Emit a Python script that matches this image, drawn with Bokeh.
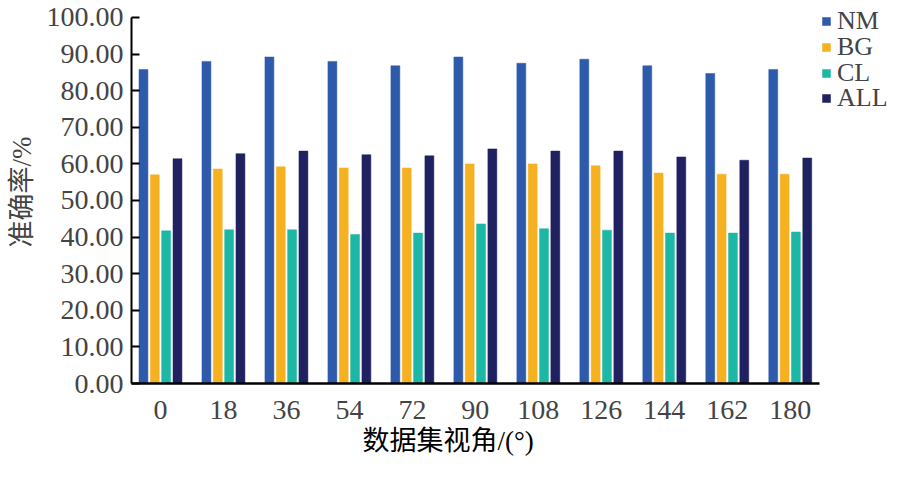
from bokeh.plotting import figure
from bokeh.models import ColumnDataSource, FixedTicker, Legend, LegendItem, Range1d, Title
from bokeh.embed import file_html
from bokeh.resources import INLINE

categories = ["0", "18", "36", "54", "72", "90", "108", "126", "144", "162", "180"]
series_names = ["NM", "BG", "CL", "ALL"]
nm = [85.8, 88.0, 89.2, 88.0, 86.8, 89.2, 87.5, 88.6, 86.8, 84.7, 85.8]
bg = [57.0, 58.6, 59.2, 58.9, 58.9, 60.0, 60.0, 59.5, 57.5, 57.2, 57.2]
cl = [41.7, 42.0, 42.0, 40.7, 41.1, 43.6, 42.3, 41.9, 41.1, 41.1, 41.4]
all_ = [61.4, 62.8, 63.5, 62.5, 62.2, 64.1, 63.5, 63.5, 61.9, 61.0, 61.6]
y_ticks = [0, 10, 20, 30, 40, 50, 60, 70, 80, 90, 100]
colors = ["#2E5AAC", "#F5B120", "#1CB8A5", "#202160"]
x_title = "数据集视角/(°)"
y_title = "准确率/%"

idx = list(range(len(categories)))
# frame extends right/up to hold the legend; axis lines are bounded to the data extent
p = figure(width=888, height=465, output_backend="svg", toolbar_location=None,
           x_range=Range1d(-0.46, 11.56), y_range=Range1d(0, 104.64),
           min_border_left=131, min_border_right=0, min_border_top=0,
           min_border_bottom=82)

step = 0.18
bw = 0.142
renderers = []
for k, (name, vals, col) in enumerate(zip(series_names, [nm, bg, cl, all_], colors)):
    off = (k - 1.5) * step
    src = ColumnDataSource(dict(x=[i + off for i in idx], top=vals))
    r = p.vbar(x="x", top="top", width=bw, bottom=0, source=src,
               fill_color=col, line_color=col, line_width=0.5)
    renderers.append(r)

# one small legend per entry so the rows sit as tightly as in the reference
legend_bottoms = [347, 321, 295, 270]
for name, r, yb in zip(series_names, renderers, legend_bottoms):
    lg = Legend(items=[LegendItem(label=name, renderers=[r])], location=(690, yb),
                padding=0, spacing=0, margin=0, glyph_width=10, glyph_height=10,
                label_standoff=6, label_text_font="Liberation Serif",
                label_text_font_size="26px", border_line_color=None,
                background_fill_alpha=0)
    p.add_layout(lg)

p.xgrid.visible = False
p.ygrid.visible = False
p.outline_line_color = None

xa = p.xaxis[0]
xa.bounds = (-0.46, 10.46)
xa.ticker = FixedTicker(ticks=idx)
xa.major_label_overrides = {i: c for i, c in zip(idx, categories)}
xa.major_tick_line_color = None
xa.minor_tick_line_color = None
xa.axis_line_width = 2.5
xa.axis_line_color = "black"
xa.major_label_text_font = "Liberation Serif"
xa.major_label_text_font_size = "28px"
xa.major_label_standoff = 11

xt = Title(text=x_title, align="left", offset=231, standoff=4,
           vertical_align="bottom",
           text_font="Liberation Serif, Noto Sans CJK SC", text_font_size="27px",
           text_font_style="normal", text_color="black")
p.add_layout(xt, "below")
# empty spacer title so the axis title sits lower, as in the reference
p.add_layout(Title(text="", standoff=0, text_font_size="1px"), "below")

ya = p.yaxis[0]
ya.bounds = (0, 100)
ya.ticker = FixedTicker(ticks=y_ticks)
ya.major_label_overrides = {t: "%.2f" % t for t in y_ticks}
ya.major_tick_in = 8
ya.major_tick_out = 0
ya.major_tick_line_width = 2
ya.minor_tick_line_color = None
ya.axis_line_width = 2
ya.axis_line_color = "black"
ya.major_label_text_font = "Liberation Serif"
ya.major_label_text_font_size = "28px"
ya.major_label_standoff = 8
ya.axis_label = y_title
ya.axis_label_text_font = "Liberation Serif, Noto Sans CJK SC"
ya.axis_label_text_font_size = "27px"
ya.axis_label_text_font_style = "normal"
ya.axis_label_standoff = 7

open("out.html", "w").write(file_html(p, INLINE))
